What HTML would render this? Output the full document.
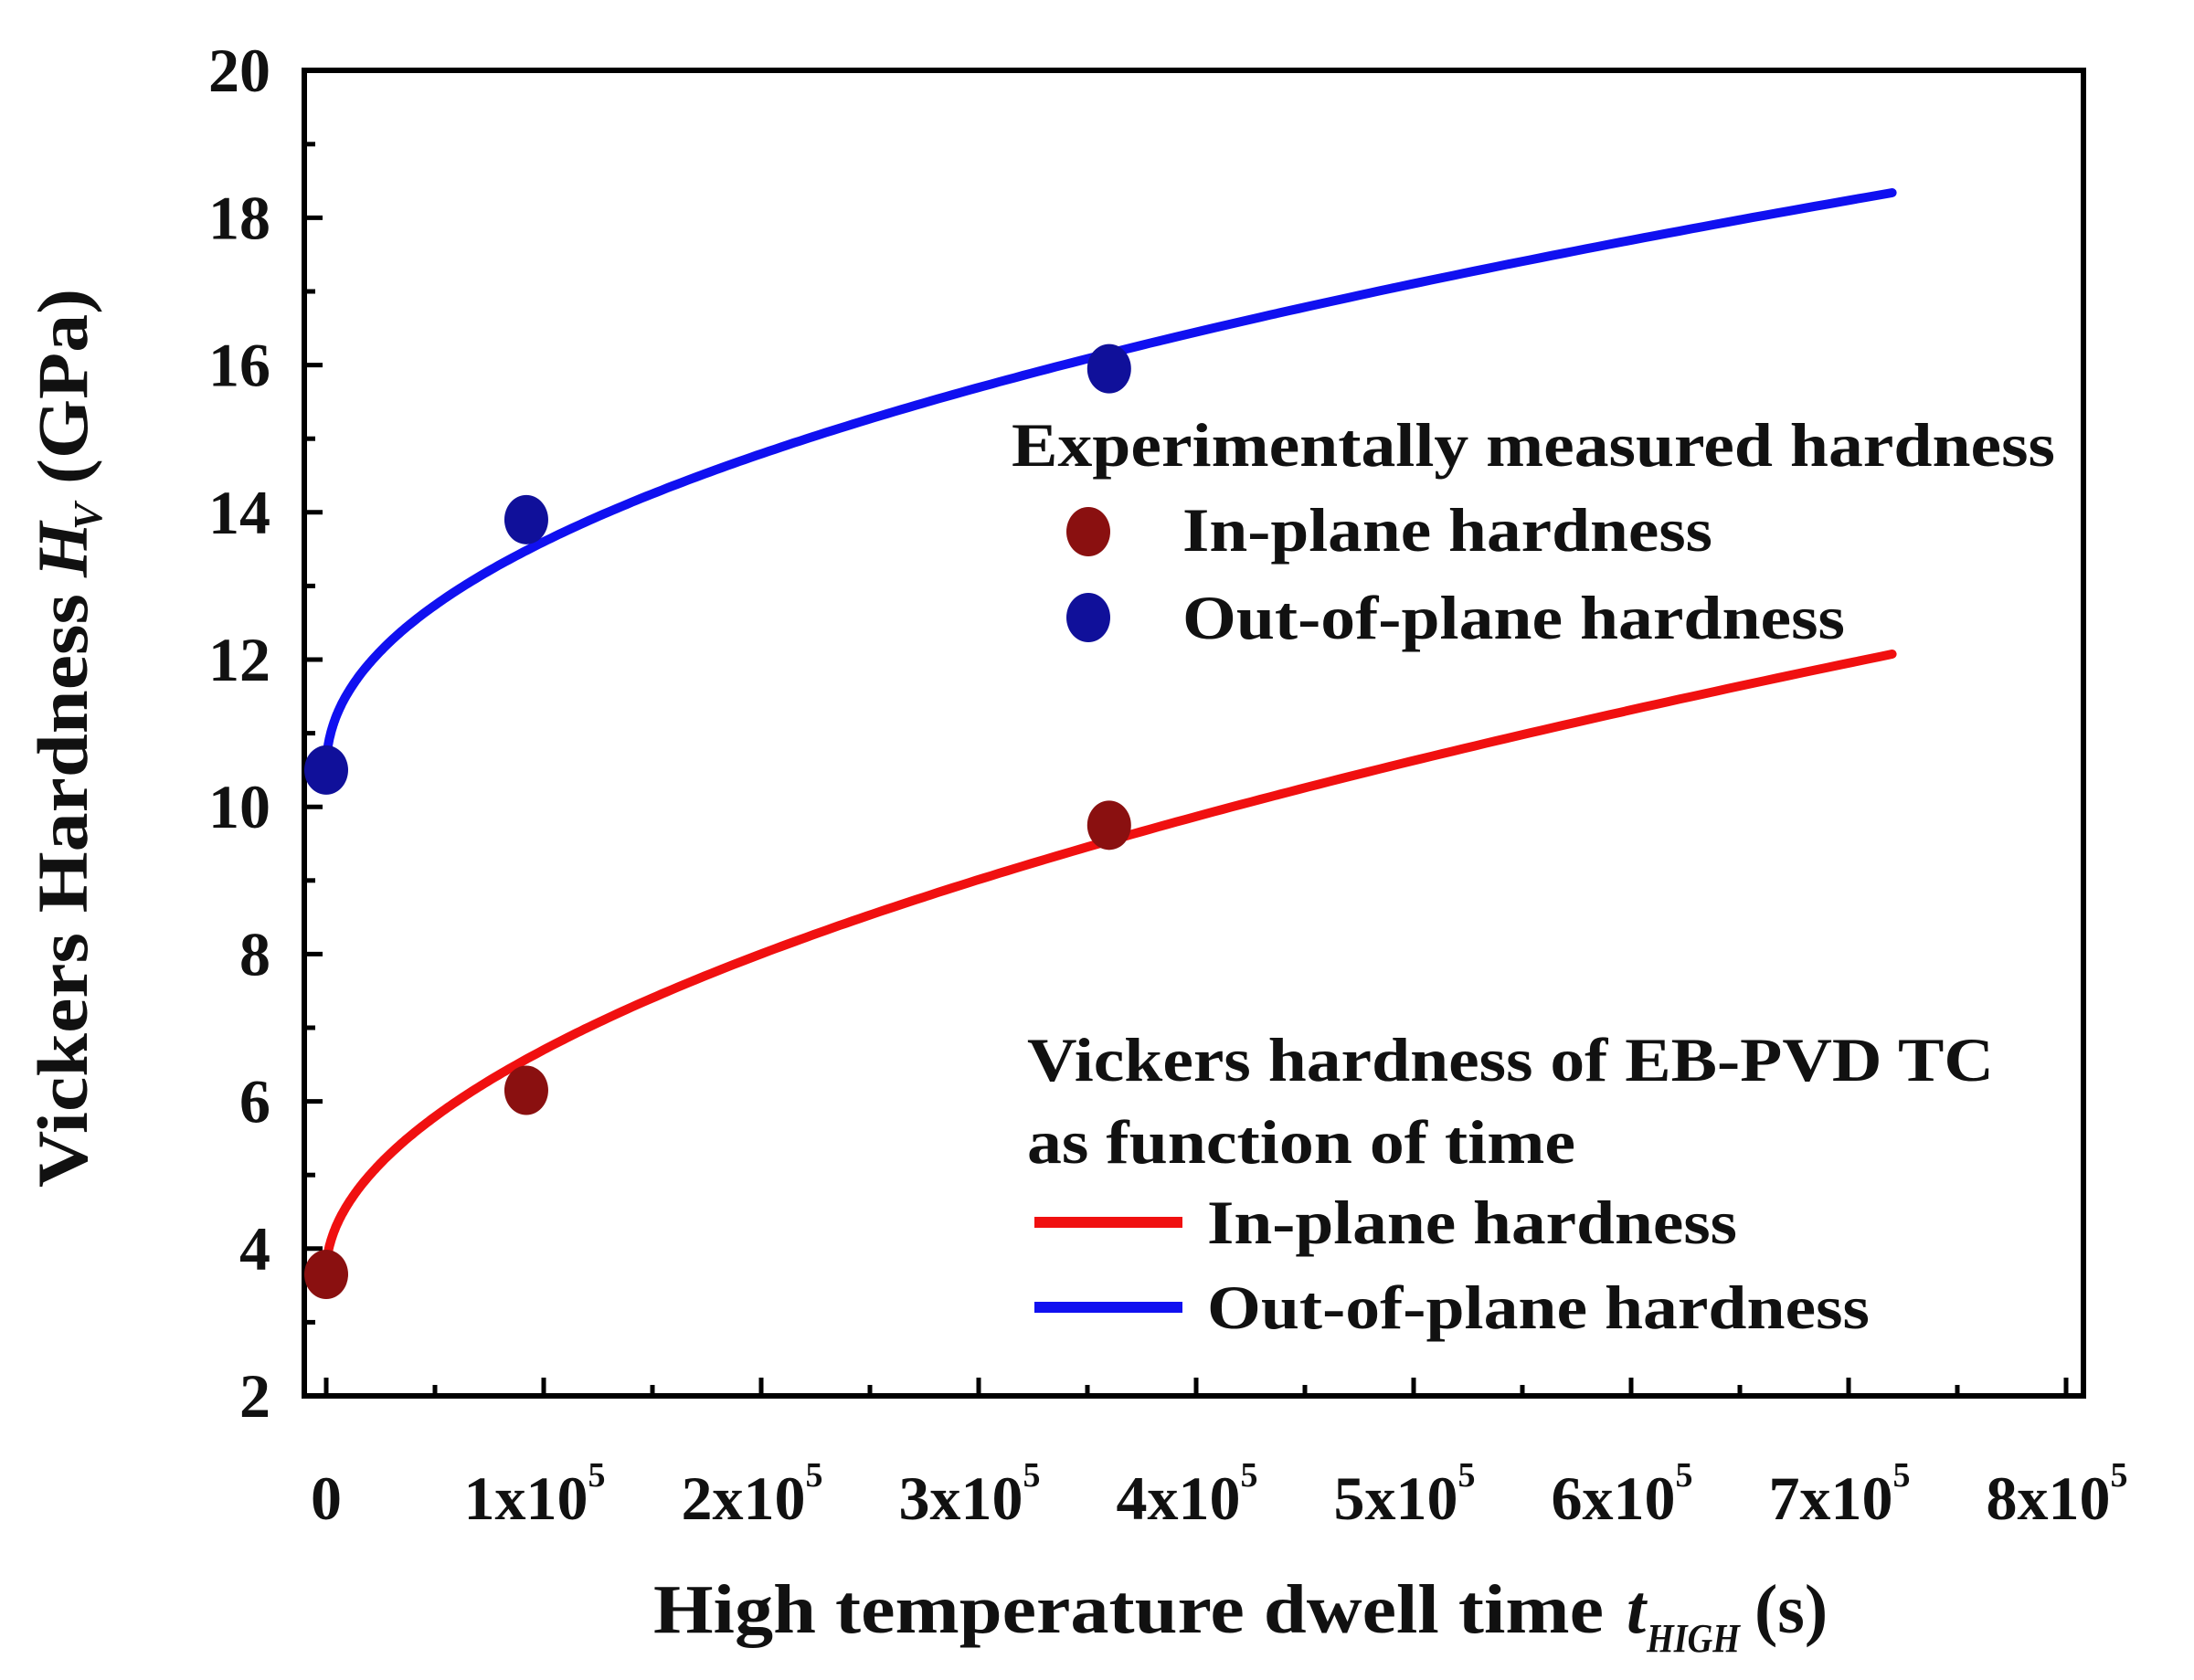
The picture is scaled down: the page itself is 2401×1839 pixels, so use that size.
<!DOCTYPE html>
<html><head><meta charset="utf-8"><style>html,body{margin:0;padding:0;background:#fff}svg{display:block}text{font-family:"Liberation Serif",serif;font-weight:bold;fill:#111}</style></head>
<body>
<svg id="s" width="2401" height="1839" viewBox="0 0 2401 1839" xmlns="http://www.w3.org/2000/svg">
<g id="g"></g>
<g transform="translate(-13,0)">
<text x="1120" y="510" font-size="68" textLength="1142" lengthAdjust="spacingAndGlyphs">Experimentally measured hardness</text>
<ellipse cx="1204" cy="582" rx="24" ry="27" fill="#8a1010"/>
<text x="1307" y="603" font-size="68" textLength="580" lengthAdjust="spacingAndGlyphs">In-plane hardness</text>
<ellipse cx="1204" cy="676" rx="24" ry="27" fill="#10109a"/>
<text x="1307" y="699" font-size="68" textLength="725" lengthAdjust="spacingAndGlyphs">Out-of-plane hardness</text>
<text x="1137" y="1183" font-size="68" textLength="1058" lengthAdjust="spacingAndGlyphs">Vickers hardness of EB-PVD TC</text>
<text x="1137" y="1273" font-size="68" textLength="600" lengthAdjust="spacingAndGlyphs">as function of time</text>
<line x1="1145" y1="1338" x2="1307" y2="1338" stroke="#f01010" stroke-width="12"/>
<text x="1334" y="1361" font-size="68" textLength="580" lengthAdjust="spacingAndGlyphs">In-plane hardness</text>
<line x1="1145" y1="1431" x2="1307" y2="1431" stroke="#1010f0" stroke-width="12"/>
<text x="1334" y="1454" font-size="68" textLength="725" lengthAdjust="spacingAndGlyphs">Out-of-plane hardness</text>
</g>
<text x="715" y="1787" font-size="76" textLength="1040" lengthAdjust="spacingAndGlyphs">High temperature dwell time</text>
<text x="1780" y="1787" font-size="76" font-style="italic">t</text>
<text x="1802" y="1808" font-size="44" font-style="italic" textLength="102" lengthAdjust="spacingAndGlyphs">HIGH</text>
<text x="1920" y="1787" font-size="76">(s)</text>
<g transform="translate(95,808) rotate(-90)">
<text x="-492" y="0" font-size="78" textLength="650" lengthAdjust="spacingAndGlyphs">Vickers Hardness</text>
<text x="176" y="0" font-size="78" font-style="italic">H</text>
<text x="228" y="16" font-size="44" font-style="italic">V</text>
<text x="278" y="0" font-size="78" textLength="214" lengthAdjust="spacingAndGlyphs">(GPa)</text>
</g>
</svg>
<script>
const g=document.getElementById('g');const NS='http://www.w3.org/2000/svg';
const X=t=>357+t*238/1e5, Y=v=>1528-(v-2)*80.6;
function el(n,a){const e=document.createElementNS(NS,n);for(const k in a)e.setAttribute(k,a[k]);g.appendChild(e);return e;}
el('rect',{x:333,y:77,width:1947,height:1451,fill:'none',stroke:'#000','stroke-width':6});
for(let i=0;i<=16;i++){const x=X(i*0.5e5);const L=i%2?12:20;el('line',{x1:x,y1:1528,x2:x,y2:1528-L,stroke:'#000','stroke-width':5});
 if(i%2==0){const k=i/2;const t=el('text',{x:k==0?x:x-10,y:1663,'font-size':68,'text-anchor':'middle'});
 t.innerHTML=k==0?'0':k+'x10<tspan font-size="38" dy="-36">5</tspan>';}}
for(let v=2;v<=20;v++){const y=Y(v);const L=v%2?12:20;el('line',{x1:333,y1:y,x2:333+L,y2:y,stroke:'#000','stroke-width':5});
 if(v%2==0){const t=el('text',{x:296,y:y+23,'font-size':68,'text-anchor':'end'});t.textContent=v;}}
function curve(b,a,p,col){let d='';for(let i=0;i<=300;i++){const t=7.2e5*Math.pow(i/300,2.5);const v=b+a*Math.pow(t/1e5,p);d+=(i?'L':'M')+X(t).toFixed(1)+','+Y(v).toFixed(1);}el('path',{d:d,fill:'none',stroke:col,'stroke-width':10,'stroke-linecap':'round'});}
curve(10.5,3.1,0.47,'#1010f0');curve(3.7,3.0,0.52,'#f01010');
[[0,10.5],[0.92e5,13.9],[3.6e5,15.95]].forEach(p=>el('ellipse',{cx:X(p[0]),cy:Y(p[1]),rx:24,ry:27,fill:'#10109a'}));
[[0,3.65],[0.92e5,6.15],[3.6e5,9.75]].forEach(p=>el('ellipse',{cx:X(p[0]),cy:Y(p[1]),rx:24,ry:27,fill:'#8a1010'}));
</script>
</body></html>
